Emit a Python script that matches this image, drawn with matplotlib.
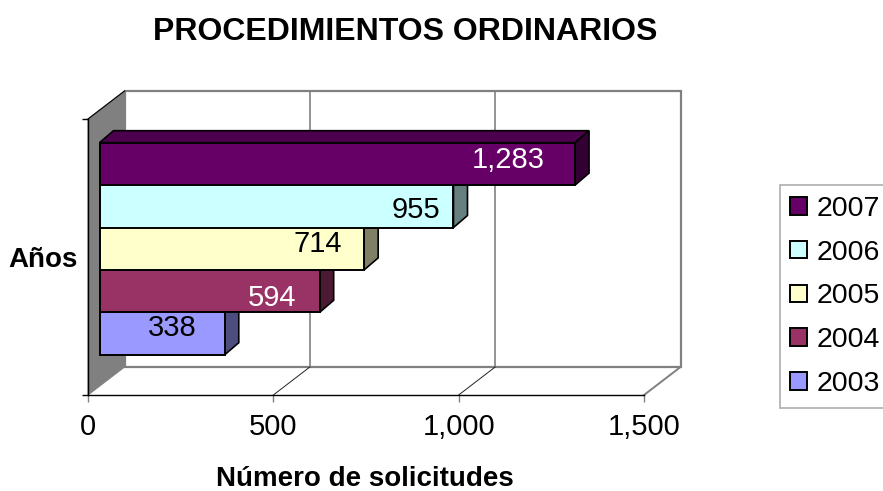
import matplotlib
matplotlib.use('Agg')
import matplotlib.pyplot as plt
from matplotlib.patches import Polygon, Patch
from matplotlib.ticker import FuncFormatter

plt.rcParams['font.family'] = ['Liberation Sans', 'DejaVu Sans']

years = ['2003', '2004', '2005', '2006', '2007']
values = [338, 594, 714, 955, 1283]
colors = ['#9999FF', '#993366', '#FFFFCC', '#CCFFFF', '#660066']
side_colors = ['#4D4D80', '#4D1A33', '#808066', '#668080', '#330033']
top_colors = ['#7373BF', '#732650', '#BFBF99', '#99BFBF', '#4D004D']
label_colors = ['black', 'white', 'black', 'black', 'white']
x_ticks = [0, 500, 1000, 1500]

W, H = 883, 491
left, right, bottom, top = 88, 644, 395, 119  # front plane in pixels

fig = plt.figure(figsize=(W / 100, H / 100), dpi=100)
ax = fig.add_axes([left / W, 1 - bottom / H, (right - left) / W, (bottom - top) / H])

x_max = 1500
band = 42.4  # pixels per bar
centre0 = 333.5  # pixel row of the first bar centre
ax.set_xlim(0, x_max)
ax.set_ylim((centre0 - bottom) / band, (centre0 - top) / band)
y0, y1 = ax.get_ylim()

px = x_max / (right - left)  # value units per pixel
py = 1 / band

# back wall, side wall and floor
dx, dy = 36.5 * px, 28 * py
grey = '#808080'
ax.add_patch(Polygon([(dx, y0 + dy), (x_max + dx, y0 + dy), (x_max + dx, y1 + dy), (dx, y1 + dy)],
                     fc='white', ec=grey, lw=1.6, clip_on=False, zorder=1))
ax.add_patch(Polygon([(0, y0), (dx, y0 + dy), (dx, y1 + dy), (0, y1)],
                     fc=grey, ec=grey, lw=0.8, clip_on=False, zorder=1.2))
ax.plot([x_max, x_max + dx], [y0, y0 + dy], color=grey, lw=1.4, clip_on=False, zorder=1.1)
for t in x_ticks[1:3]:
    ax.plot([t + dx, t + dx], [y0 + dy, y1 + dy], color=grey, lw=1.2, clip_on=False, zorder=1.1)
    ax.plot([t, t + dx], [y0, y0 + dy], color='#222222', lw=0.7, clip_on=False, zorder=1.1)
ax.plot([0, dx], [y1, y1 + dy], color='black', lw=0.8, clip_on=False, zorder=1.3)

# bars, bottom one first so the next covers its side face
bar_left = 11.5 * px
bx, by = 14 * px, 12 * py
label_dx = [28, 23, 22, 13, 30]
label_dy = [5, -7, 5, -4, 4]
for i, v in enumerate(values):
    x1 = bar_left + v
    ya, yb = i - 0.5, i + 0.5
    z = 3 + i
    ax.add_patch(Polygon([(bar_left, yb), (bar_left + bx, yb + by), (x1 + bx, yb + by), (x1, yb)],
                         fc=top_colors[i], ec='black', lw=1.2, zorder=z))
    ax.add_patch(Polygon([(x1, ya), (x1 + bx, ya + by), (x1 + bx, yb + by), (x1, yb)],
                         fc=side_colors[i], ec='black', lw=1.2, zorder=z))
    ax.barh(i, v, height=1, left=bar_left, color=colors[i], edgecolor='black', lw=1.4, zorder=z + 0.1)
    ax.annotate(f'{v:,}', (x1, i), xytext=(-label_dx[i], label_dy[i]), textcoords='offset pixels',
                ha='right', va='center', fontsize=21, color=label_colors[i], zorder=20)

for s in ['top', 'right']:
    ax.spines[s].set_visible(False)
for s in ['left', 'bottom']:
    ax.spines[s].set_linewidth(1.0)
    ax.spines[s].set_zorder(2)
ax.patch.set_visible(False)
ax.set_xticks(x_ticks)
ax.xaxis.set_major_formatter(FuncFormatter(lambda v, p: f'{int(v):,}'))
ax.set_yticks([y0, y1])
ax.set_yticklabels(['', ''])
ax.tick_params(axis='x', length=5, width=1, color=grey, labelsize=21, pad=8)
ax.tick_params(axis='y', length=4.5, width=1, color='black')

ax.set_xlabel('Número de solicitudes', fontsize=20, fontweight='bold')
ax.xaxis.set_label_coords(0.498, -0.305)
ax.xaxis.label.set_va('center')
fig.text(43 / W, 1 - 260 / H, 'Años', fontsize=20, fontweight='bold', ha='center', va='center')
fig.text(405 / W, 1 - 32 / H, 'PROCEDIMIENTOS ORDINARIOS', fontsize=23, fontweight='bold',
         ha='center', va='center')

handles = [Patch(fc=c, ec='black', lw=1.4) for c in colors[::-1]]
leg = fig.legend(handles, years[::-1], loc='upper left', bbox_to_anchor=(779.5 / W, 1 - 185 / H),
                 borderaxespad=0, fontsize=20.5, frameon=True, fancybox=False, edgecolor='#999999',
                 handlelength=0.57, handleheight=0.57, handletextpad=0.36, labelspacing=0.625,
                 borderpad=0.38)
leg.get_frame().set_linewidth(1.2)

fig.savefig('out.png', dpi=100)
